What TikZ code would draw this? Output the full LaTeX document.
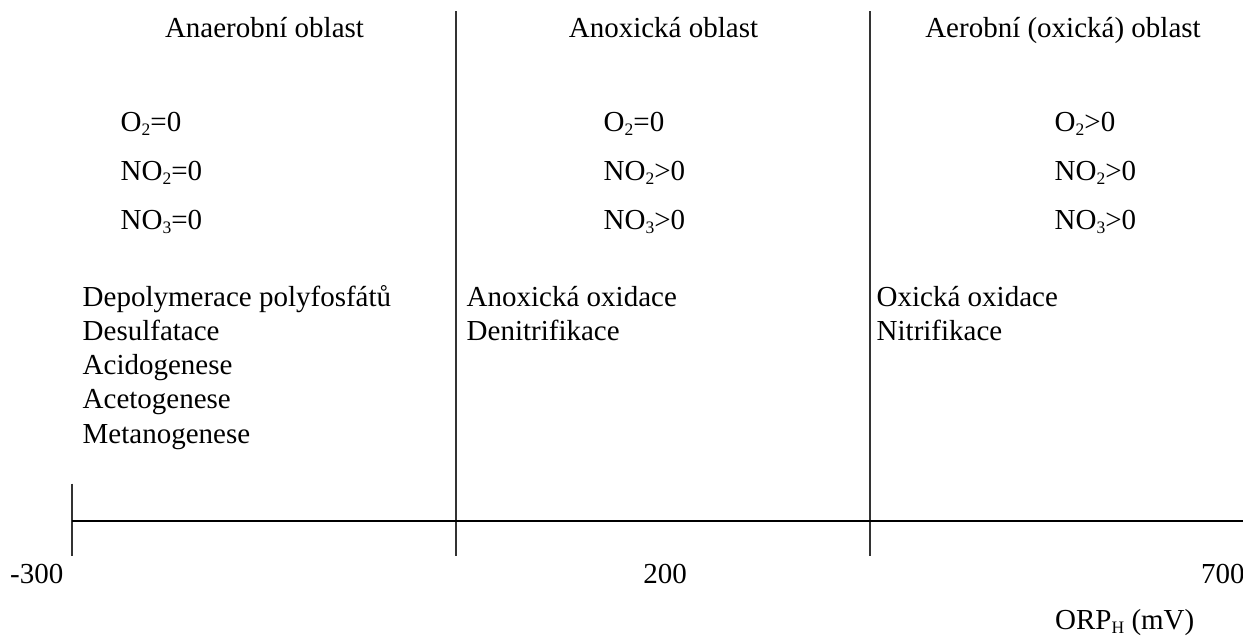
\documentclass[tikz,border=0pt]{standalone}
\usepackage{fontspec}
\setmainfont{Liberation Serif}
% chemical subscript: smaller and dropped below the baseline
\newcommand\chemsub[1]{\raisebox{-4pt}{\fontsize{17.5}{17.5}\selectfont #1}}
\begin{document}
\begin{tikzpicture}[x=1pt,y=-1pt,
  lbl/.style={inner sep=0pt, font=\fontsize{29}{34}\selectfont},
  divider/.style={line width=1.1pt, draw=black!80},
  axisline/.style={line width=2.7pt, draw=black}]
\useasboundingbox (0,0) rectangle (1243,637);

% region headings
\node[lbl,anchor=base] (h1) at (264.5,37) {Anaerobní oblast};
\node[lbl,anchor=base] (h2) at (663.5,37) {Anoxická oblast};
\node[lbl,anchor=base] (h3) at (1063,37) {Aerobní (oxická) oblast};

% oxygen / nitrite / nitrate conditions
\node[lbl,anchor=base west] (a1) at (120.5,131) {O\chemsub{2}=0};
\node[lbl,anchor=base west] (a2) at (120.5,180) {NO\chemsub{2}=0};
\node[lbl,anchor=base west] (a3) at (120.5,229) {NO\chemsub{3}=0};

\node[lbl,anchor=base west] (b1) at (603.5,131) {O\chemsub{2}=0};
\node[lbl,anchor=base west] (b2) at (603.5,180) {NO\chemsub{2}>0};
\node[lbl,anchor=base west] (b3) at (603.5,229) {NO\chemsub{3}>0};

\node[lbl,anchor=base west] (c1) at (1054.5,131) {O\chemsub{2}>0};
\node[lbl,anchor=base west] (c2) at (1054.5,180) {NO\chemsub{2}>0};
\node[lbl,anchor=base west] (c3) at (1054.5,229) {NO\chemsub{3}>0};

% processes in each region
\node[lbl,anchor=base west] (p1) at (82.5,306) {Depolymerace polyfosfátů};
\node[lbl,anchor=base west] (p2) at (82.5,340.3) {Desulfatace};
\node[lbl,anchor=base west] (p3) at (82.5,374.6) {Acidogenese};
\node[lbl,anchor=base west] (p4) at (82.5,408.9) {Acetogenese};
\node[lbl,anchor=base west] (p5) at (82.5,443.2) {Metanogenese};

\node[lbl,anchor=base west] (q1) at (466.5,306) {Anoxická oxidace};
\node[lbl,anchor=base west] (q2) at (466.5,340.3) {Denitrifikace};

\node[lbl,anchor=base west] (r1) at (876.5,306) {Oxická oxidace};
\node[lbl,anchor=base west] (r2) at (876.5,340.3) {Nitrifikace};

% axis geometry
\coordinate (ax0) at (72,521);
\coordinate (ax1) at (1243,521);
\coordinate (t0top) at (72,483.5);
\coordinate (t0bot) at (72,555.5);
\coordinate (d1top) at (456,11);
\coordinate (d1bot) at (456,555.5);
\coordinate (d2top) at (870,11);
\coordinate (d2bot) at (870,555.5);

\draw[divider] (t0top) -- (t0bot);
\draw[divider] (d1top) -- (d1bot);
\draw[divider] (d2top) -- (d2bot);
\draw[axisline] (ax0) -- (ax1);

% axis values
\node[lbl,anchor=base] (v1) at (36.7,583) {-300};
\node[lbl,anchor=base] (v2) at (665,583) {200};
\node[lbl,anchor=base west] (v3) at (1201,583) {700};
\node[lbl,anchor=base west] (unit) at (1055,629) {ORP\chemsub{H} (mV)};
\end{tikzpicture}
\end{document}
